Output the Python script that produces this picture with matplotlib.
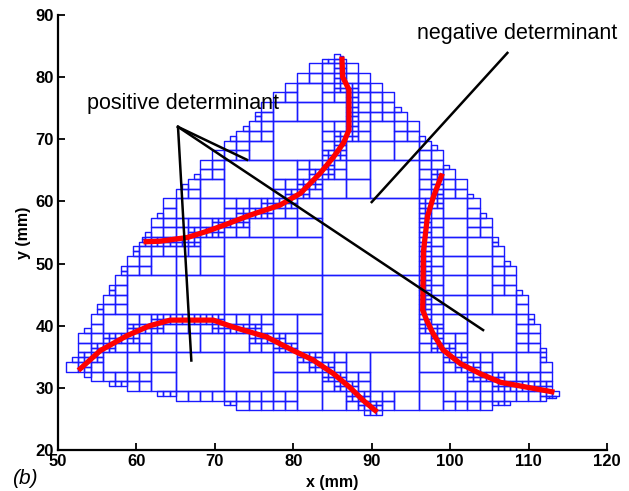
import numpy as np
import matplotlib
matplotlib.use("Agg")
import matplotlib.pyplot as plt
from matplotlib.path import Path
from matplotlib.collections import PolyCollection

# ---------------- data ----------------
# domain outline (mm): upper arch left->right, lower edge right->left
upper_x = [51.6, 52.3, 53.5, 55.0, 57.0, 59.5, 61.8, 64.0, 66.0, 68.2, 70.3, 72.5, 74.7, 77.0,
           79.4, 81.5, 83.8, 86.0, 88.0, 90.0, 92.0, 94.3, 96.5, 98.5, 100.5, 102.5, 104.2,
           105.6, 107.0, 108.3, 109.5, 110.6, 111.6, 112.5, 113.3, 113.6]
upper_y = [33.2, 35.5, 39.0, 42.5, 46.8, 51.5, 55.8, 59.8, 62.5, 65.2, 68.0, 70.6, 73.2, 75.9,
           78.6, 80.9, 82.7, 83.6, 81.6, 79.4, 77.0, 73.8, 70.8, 67.8, 64.6, 61.2, 57.8,
           54.5, 51.0, 47.5, 44.2, 40.8, 37.2, 33.8, 30.5, 28.6]
lower_x = [113.6, 110.0, 106.0, 102.0, 98.0, 90.0, 82.0, 78.0, 74.0, 70.0, 66.0, 62.5,
           59.5, 57.0, 55.0, 53.0, 51.6]
lower_y = [28.6, 27.9, 27.4, 26.6, 26.1, 26.0, 26.1, 26.5, 27.0, 27.9, 28.6, 29.2,
           29.9, 30.6, 31.4, 32.4, 33.2]

# interface curves (red)
c1_x = [60.9, 63.0, 66.5, 69.0, 71.0, 74.5, 78.3, 80.9, 83.4, 85.1, 86.4, 87.1, 87.1, 86.3, 86.2]
c1_y = [53.5, 53.6, 54.2, 55.2, 56.1, 57.8, 59.4, 61.3, 64.5, 67.1, 69.4, 71.5, 78.0, 80.0, 83.3]
c2_x = [99.0, 97.8, 97.1, 96.6, 96.5, 97.0, 97.8, 99.1, 101.3, 103.8, 106.4, 109.8, 113.3]
c2_y = [64.5, 60.5, 57.5, 52.0, 42.5, 40.9, 38.8, 36.1, 33.9, 32.3, 30.9, 30.1, 29.3]
c3_x = [52.6, 55.4, 58.8, 61.7, 64.3, 69.8, 72.3, 76.6, 80.0, 82.5, 85.1, 87.2, 88.9, 90.7]
c3_y = [32.8, 36.0, 38.4, 40.0, 40.9, 40.9, 39.8, 38.2, 36.0, 34.5, 32.3, 30.1, 28.0, 26.1]

# annotations
pos_label = "positive determinant"
pos_text = (65.9, 75.8)
pos_origin = (65.3, 72.0)
pos_tx = [74.1, 104.2, 67.0]
pos_ty = [66.7, 39.3, 34.4]
neg_label = "negative determinant"
neg_text = (108.5, 87.1)
neg_x = [107.3, 90.0]
neg_y = [83.9, 59.9]

xticks = [50, 60, 70, 80, 90, 100, 110, 120]
yticks = [20, 30, 40, 50, 60, 70, 80, 90]

# quadtree settings
X0, Y0, H0, NX, NY = 46.4, 23.3, 12.4, 6, 5
CURVE_LEVEL, BOUND_LEVEL = 4, 3

# ---------------- quadtree mesh ----------------
poly = np.array(list(zip(upper_x, upper_y)) + list(zip(lower_x, lower_y)))
dom = Path(poly)

def dense(xs, ys, step=0.08):
    pts = []
    for k in range(len(xs) - 1):
        n = max(2, int(np.hypot(xs[k+1]-xs[k], ys[k+1]-ys[k]) / step) + 1)
        t = np.linspace(0, 1, n)
        pts.append(np.column_stack([xs[k] + t*(xs[k+1]-xs[k]), ys[k] + t*(ys[k+1]-ys[k])]))
    return np.vstack(pts)

curve_pts = np.vstack([dense(c1_x, c1_y), dense(c2_x, c2_y), dense(c3_x, c3_y)])

def geom(c):
    l, i, j = c
    s = H0 / 2**l
    return X0 + i*s, Y0 + j*s, s

def inside_frac(c, n=13):
    x, y, s = geom(c)
    g = np.linspace(0, 1, n)
    gx, gy = np.meshgrid(x + g*s, y + g*s)
    ins = dom.contains_points(np.column_stack([gx.ravel(), gy.ravel()]))
    return ins.mean()

def hits_curve(c):
    x, y, s = geom(c)
    m = (curve_pts[:, 0] > x) & (curve_pts[:, 0] < x+s) & (curve_pts[:, 1] > y) & (curve_pts[:, 1] < y+s)
    return m.any()

def want(c):
    if hits_curve(c):
        return CURVE_LEVEL
    f = inside_frac(c)
    if 0 < f < 1:
        return BOUND_LEVEL
    return 0

def children(c):
    l, i, j = c
    return [(l+1, 2*i+a, 2*j+b) for a in (0, 1) for b in (0, 1)]

leaves = set()
stack = [(0, i, j) for i in range(NX) for j in range(NY)]
while stack:
    c = stack.pop()
    if c[0] < want(c):
        stack.extend(children(c))
    else:
        leaves.add(c)

def center_in(c):
    x, y, s = geom(c)
    return dom.contains_point((x + s/2, y + s/2))

cells = []
for c in leaves:
    f = inside_frac(c, 7)
    if f == 1:
        cells.append(c)
    elif f > 0 or center_in(c):
        if center_in(c):
            cells.append(c)
        else:
            cells.extend(ch for ch in children(c) if center_in(ch))

rects = []
for c in cells:
    x, y, s = geom(c)
    rects.append([(x, y), (x+s, y), (x+s, y+s), (x, y+s)])

# ---------------- plot ----------------
fig = plt.figure(figsize=(6.29, 4.91), dpi=100)
ax = fig.add_axes([58/629, 41/491, 549/629, 435/491])

ax.add_collection(PolyCollection(rects, facecolors='none', edgecolors='#1a1aff', linewidths=1.0))
for cx, cy in ((c1_x, c1_y), (c2_x, c2_y), (c3_x, c3_y)):
    ax.plot(cx, cy, color='#ff0000', lw=3.8, solid_capstyle='butt', solid_joinstyle='miter', zorder=3)

for tx, ty in zip(pos_tx, pos_ty):
    ax.plot([pos_origin[0], tx], [pos_origin[1], ty], color='black', lw=1.8, zorder=4)
ax.plot(neg_x, neg_y, color='black', lw=1.8, zorder=4)

ax.text(pos_text[0], pos_text[1], pos_label, ha='center', va='center', fontsize=15.5,
        family=['Liberation Sans', 'DejaVu Sans'])
ax.text(neg_text[0], neg_text[1], neg_label, ha='center', va='center', fontsize=15.5,
        family=['Liberation Sans', 'DejaVu Sans'], clip_on=False)

ax.set_xlim(50, 120)
ax.set_ylim(20, 90)
ax.set_xticks(xticks)
ax.set_yticks(yticks)
ax.set_xticklabels([str(t) for t in xticks], fontsize=12, fontweight='bold', family=['Liberation Sans'])
ax.set_yticklabels([str(t) for t in yticks], fontsize=12, fontweight='bold', family=['Liberation Sans'])
ax.tick_params(direction='in', length=5, width=1.3, pad=3)
for s in ('top', 'right'):
    ax.spines[s].set_visible(False)
for s in ('left', 'bottom'):
    ax.spines[s].set_linewidth(1.6)
ax.set_xlabel('x (mm)', fontsize=11.5, fontweight='bold', family=['Liberation Sans'], labelpad=4)
ax.set_ylabel('y (mm)', fontsize=11.5, fontweight='bold', family=['Liberation Sans'], labelpad=3)
ax.set_facecolor('none')

fig.text(12/629, 1 - 478/491, '(b)', fontsize=15, style='italic', ha='left', va='center',
         family=['Liberation Sans'])

fig.savefig('out.png', dpi=100)
